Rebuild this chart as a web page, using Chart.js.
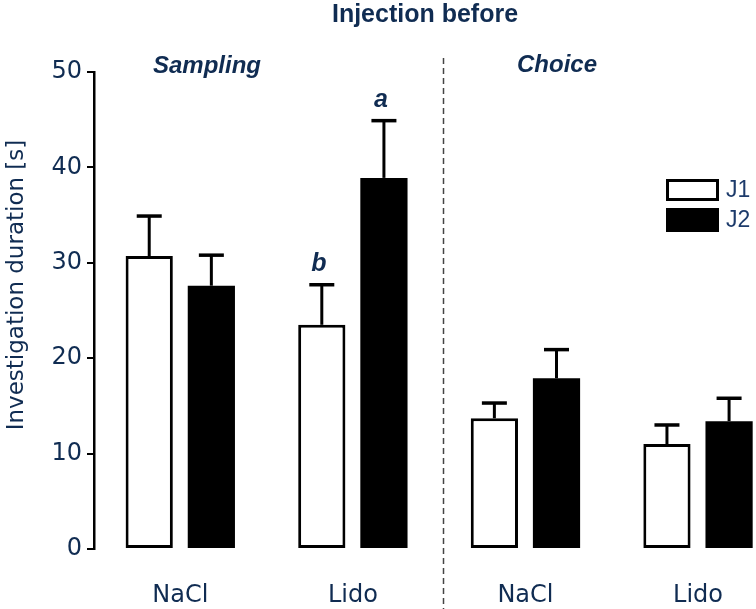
<!DOCTYPE html>
<html>
<head>
<meta charset="utf-8">
<script src="https://cdn.jsdelivr.net/npm/chart.js@4.4.1/dist/chart.umd.min.js"></script>
<style>
  html,body{margin:0;padding:0;background:#fff;}
  #wrap{width:756px;height:609px;}
</style>
</head>
<body>
<div id="wrap"><canvas id="c" width="756" height="609"></canvas></div>
<script>
const CATEGORIES = ['NaCl','Lido','NaCl','Lido'];
const J1_MEAN = [30.7, 23.5, 13.7, 11.0];
const J1_SEM  = [4.2, 4.2, 1.6, 2.0];
const J2_MEAN = [27.6, 38.9, 17.9, 13.4];
const J2_SEM  = [3.2, 6.0, 3.0, 2.4];
const J1_LETTERS = ['', 'b', '', ''];
const J2_LETTERS = ['', 'a', '', ''];
const Y_TICKS = [0,10,20,30,40,50];
const SECTIONS = ['Sampling','Choice'];
const TITLE = 'Injection before';
const Y_TITLE = 'Investigation duration [s]';

const NAVY = '#102c52';
const toPoints = arr => arr.map((v,i)=>({x:i, y:v}));

const overlay = {
  id:'overlay',
  afterDatasetsDraw(chart){
    const {ctx, scales:{x,y}} = chart;
    ctx.save();
    // error bars + significance letters
    chart.data.datasets.forEach((ds, di)=>{
      const meta = chart.getDatasetMeta(di);
      meta.data.forEach((bar, i)=>{
        const top = y.getPixelForValue(ds.data[i].y + ds.err[i]);
        ctx.strokeStyle = '#000';
        ctx.lineWidth = 3;
        ctx.beginPath(); ctx.moveTo(bar.x, bar.y); ctx.lineTo(bar.x, top); ctx.stroke();
        ctx.lineWidth = 3.5;
        ctx.beginPath(); ctx.moveTo(bar.x-12.5, top); ctx.lineTo(bar.x+12.5, top); ctx.stroke();
        if(ds.letters[i]){
          ctx.fillStyle = NAVY;
          ctx.font = 'italic bold 25px "Liberation Sans", Arial, sans-serif';
          ctx.textAlign = 'center'; ctx.textBaseline = 'alphabetic';
          ctx.fillText(ds.letters[i], bar.x-3, top-14);
        }
      });
    });

    // dashed separator between the two phases
    const sx = Math.round(x.getPixelForValue(1.5)) + 4.5;
    ctx.strokeStyle = '#444'; ctx.lineWidth = 1.5; ctx.setLineDash([6,4]);
    ctx.beginPath(); ctx.moveTo(sx, 58); ctx.lineTo(sx, 609); ctx.stroke();
    ctx.setLineDash([]);

    // titles
    ctx.fillStyle = NAVY; ctx.textAlign = 'center'; ctx.textBaseline = 'alphabetic';
    ctx.font = 'bold 25px "Liberation Sans", Arial, sans-serif';
    ctx.fillText(TITLE, 425, 22);
    ctx.font = 'italic bold 24px "Liberation Sans", Arial, sans-serif';
    ctx.fillText(SECTIONS[0], 207, 73);
    ctx.fillText(SECTIONS[1], 557, 72);

    // y title
    ctx.save();
    ctx.translate(23, 285); ctx.rotate(-Math.PI/2);
    ctx.font = '23px "DejaVu Sans", sans-serif';
    ctx.fillText(Y_TITLE, 0, 0);
    ctx.restore();

    // legend
    chart.data.datasets.forEach((ds, di)=>{
      const ly = di===0 ? 179 : 208, lh = di===0 ? 22 : 24;
      ctx.fillStyle = ds.backgroundColor;
      ctx.fillRect(666, ly, 53, lh);
      ctx.strokeStyle = '#000'; ctx.lineWidth = 3;
      ctx.strokeRect(667.5, ly+1.5, 50, lh-3);
      ctx.fillStyle = '#1d3b6b';
      ctx.font = '23px "Liberation Sans", Arial, sans-serif';
      ctx.textAlign = 'left'; ctx.textBaseline = 'middle';
      ctx.fillText(ds.label, 726, ly + lh/2 + 1);
    });
    ctx.restore();
  }
};

new Chart(document.getElementById('c').getContext('2d'), {
  type:'bar',
  data:{datasets:[
    {label:'J1', data:toPoints(J1_MEAN), err:J1_SEM, letters:J1_LETTERS,
     backgroundColor:'#fff', borderColor:'#000', borderWidth:3, borderSkipped:false,
     categoryPercentage:0.72, barPercentage:0.76},
    {label:'J2', data:toPoints(J2_MEAN), err:J2_SEM, letters:J2_LETTERS,
     backgroundColor:'#000', borderWidth:0,
     categoryPercentage:0.72, barPercentage:0.76}
  ]},
  options:{
    responsive:false, animation:false,
    layout:{padding:{top:72, right:0, bottom:0, left:0}},
    plugins:{legend:{display:false}, tooltip:{enabled:false}},
    scales:{
      x:{type:'linear', min:-0.5, max:3.336, offset:false,
        grid:{display:false}, border:{display:false},
        afterBuildTicks: s => { s.ticks = CATEGORIES.map((_,i)=>({value:i})); },
        afterFit: s => { s.height = 60; },
        ticks:{padding:24, color:NAVY, autoSkip:false, maxRotation:0,
          font:{family:'DejaVu Sans', size:24},
          callback: v => CATEGORIES[v] ?? ''}
      },
      y:{min:0, max:50,
        afterBuildTicks: s => { s.ticks = Y_TICKS.map(v=>({value:v})); },
        afterFit: s => { s.width = 94; },
        grid:{display:true, drawOnChartArea:false, drawTicks:true, tickLength:7, color:'#000', lineWidth:2},
        border:{display:true, color:'#000', width:2.5},
        ticks:{padding:5, color:NAVY, font:{family:'DejaVu Sans', size:24}}
      }
    }
  },
  plugins:[overlay]
});
</script>
</body>
</html>
